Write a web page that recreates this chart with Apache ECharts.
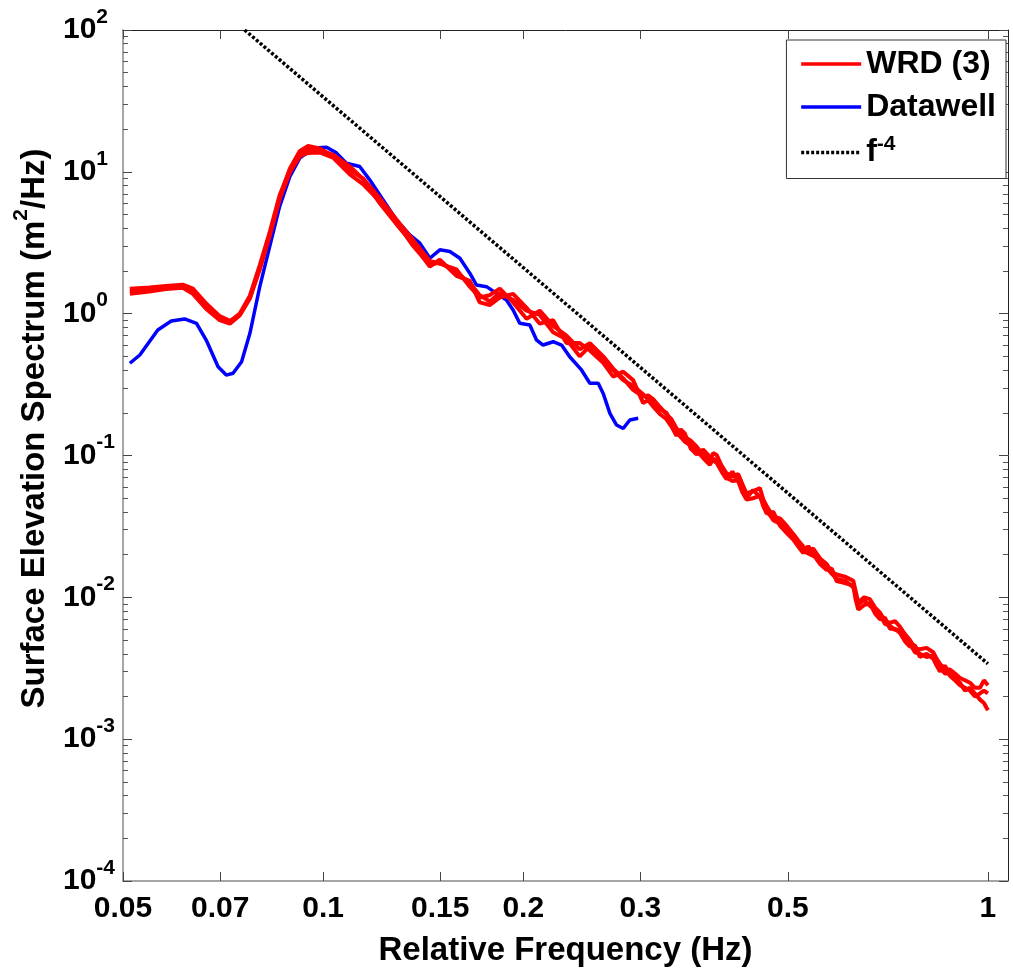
<!DOCTYPE html>
<html>
<head>
<meta charset="utf-8">
<script src="https://cdn.jsdelivr.net/npm/echarts@6.0.0/dist/echarts.min.js"></script>
<style>
  html, body { margin: 0; padding: 0; background: #fff; }
  #main { width: 1013px; height: 972px; }
</style>
</head>
<body>
<div id="main"></div>
<script>
// frequency grid shared by the three WRD runs (Hz)
const redFreq = [
  0.0512, 0.0548, 0.0580, 0.0615, 0.0637, 0.0667, 0.0699, 0.0724, 0.0749, 0.0776,
  0.0803, 0.0831, 0.0860, 0.0891, 0.0922, 0.0949, 0.0988, 0.1035, 0.1097, 0.1148,
  0.1217, 0.1304, 0.1366, 0.1447, 0.1498, 0.1587, 0.1662, 0.1720, 0.1781, 0.1844,
  0.1931, 0.2023, 0.2118, 0.2218, 0.2323, 0.2432, 0.2519, 0.2638, 0.2731, 0.2827,
  0.2926, 0.3029, 0.3082, 0.3136, 0.3210, 0.3285, 0.3342, 0.3401, 0.3450, 0.3500,
  0.3572, 0.3645, 0.3730, 0.3817, 0.3862, 0.3907, 0.3975, 0.4044, 0.4126, 0.4210,
  0.4272, 0.4334, 0.4435, 0.4539, 0.4593, 0.4647, 0.4755, 0.4866, 0.4979, 0.5095,
  0.5184, 0.5275, 0.5367, 0.5461, 0.5590, 0.5721, 0.5821, 0.5922, 0.6094, 0.6272,
  0.6326, 0.6381, 0.6512, 0.6645, 0.6762, 0.6880, 0.7000, 0.7122, 0.7247, 0.7374,
  0.7502, 0.7632, 0.7765, 0.7901, 0.8085, 0.8274, 0.8371, 0.8469, 0.8617, 0.8768,
  0.8922, 0.9078, 0.9236, 0.9397, 0.9561, 0.9728, 0.9863, 1.0
];
const wrdRun1 = [
  1.50, 1.53, 1.57, 1.60, 1.50, 1.18, 0.96, 0.89, 0.98, 1.30,
  2.10, 3.60, 6.60, 10.5, 14.0, 15.2, 14.6, 13.0, 10.3, 9.0,
  6.5, 4.3, 3.3, 2.35, 2.25, 2.05, 1.55, 1.30, 1.35, 1.50,
  1.20, 0.92, 1.05, 0.82, 0.70, 0.56, 0.62, 0.50, 0.41, 0.35,
  0.29, 0.26, 0.265, 0.25, 0.22, 0.195, 0.18, 0.155, 0.145, 0.135,
  0.127, 0.116, 0.101, 0.092, 0.104, 0.101, 0.085, 0.075, 0.071, 0.074,
  0.063, 0.054, 0.056, 0.059, 0.049, 0.044, 0.037, 0.036, 0.032, 0.028,
  0.0252, 0.0228, 0.0214, 0.0220, 0.0188, 0.0172, 0.0150, 0.0145, 0.0140, 0.0131,
  0.0110, 0.0092, 0.0100, 0.0097, 0.0085, 0.0078, 0.0068, 0.0066, 0.0068, 0.0062,
  0.0055, 0.0050, 0.0044, 0.0043, 0.0044, 0.0041, 0.0037, 0.0034, 0.0031, 0.0031,
  0.0029, 0.0027, 0.0026, 0.0025, 0.0023, 0.0023, 0.0026, 0.0024
];
const wrdRun2 = [
  1.44, 1.49, 1.54, 1.58, 1.42, 1.12, 0.93, 0.88, 1.00, 1.34,
  2.20, 3.75, 6.80, 10.3, 13.4, 14.3, 14.0, 13.2, 10.9, 8.9,
  6.0, 4.0, 3.1, 2.15, 2.40, 1.85, 1.70, 1.20, 1.15, 1.30,
  1.38, 1.10, 0.85, 0.90, 0.62, 0.62, 0.55, 0.45, 0.36, 0.39,
  0.34, 0.235, 0.245, 0.222, 0.196, 0.18, 0.16, 0.138, 0.153, 0.143,
  0.112, 0.102, 0.110, 0.098, 0.092, 0.089, 0.077, 0.068, 0.077, 0.066,
  0.055, 0.049, 0.050, 0.052, 0.044, 0.039, 0.040, 0.032, 0.0285, 0.0255,
  0.0228, 0.0205, 0.0230, 0.0200, 0.0172, 0.0156, 0.0160, 0.0130, 0.0126, 0.0121,
  0.0096, 0.0082, 0.0088, 0.0091, 0.0077, 0.0070, 0.0072, 0.0060, 0.0060, 0.0056,
  0.0049, 0.0045, 0.0046, 0.0038, 0.0040, 0.0037, 0.0033, 0.0030, 0.0033, 0.0028,
  0.0026, 0.0024, 0.0023, 0.0022, 0.0020, 0.0021, 0.0022, 0.0021
];
const wrdRun3 = [
  1.38, 1.43, 1.49, 1.52, 1.38, 1.08, 0.90, 0.85, 0.97, 1.28,
  2.05, 3.55, 6.40, 9.9, 12.9, 13.6, 13.7, 12.6, 9.6, 8.2,
  6.2, 4.1, 3.0, 2.2, 2.3, 1.95, 1.65, 1.35, 1.22, 1.40,
  1.25, 1.05, 0.98, 0.74, 0.66, 0.50, 0.59, 0.48, 0.40, 0.34,
  0.31, 0.27, 0.25, 0.235, 0.212, 0.20, 0.168, 0.146, 0.135, 0.125,
  0.118, 0.108, 0.096, 0.086, 0.095, 0.092, 0.081, 0.070, 0.066, 0.067,
  0.058, 0.0505, 0.057, 0.051, 0.048, 0.041, 0.035, 0.033, 0.030, 0.0278,
  0.0235, 0.0212, 0.0204, 0.0196, 0.0187, 0.0162, 0.0147, 0.0135, 0.0131, 0.0118,
  0.0105, 0.0089, 0.0096, 0.0087, 0.0082, 0.0075, 0.0065, 0.0063, 0.0059, 0.0059,
  0.0052, 0.0047, 0.0041, 0.0040, 0.0038, 0.0039, 0.0034, 0.0032, 0.0029, 0.0029,
  0.0027, 0.0025, 0.0022, 0.0023, 0.0021, 0.0019, 0.0018, 0.0016
];

const datawellFreq = [
  0.0512, 0.0530, 0.0564, 0.0591, 0.0619, 0.0645, 0.0667, 0.0695, 0.0715, 0.0732,
  0.0754, 0.0776, 0.0803, 0.0831, 0.0860, 0.0891, 0.0922, 0.0966, 0.1012, 0.1047,
  0.1084, 0.1135, 0.1175, 0.1231, 0.1289, 0.1350, 0.1398, 0.1447, 0.1498, 0.1551,
  0.1606, 0.1662, 0.1701, 0.1761, 0.1823, 0.1887, 0.1931, 0.1976, 0.2046, 0.2094,
  0.2142, 0.2218, 0.2284, 0.2349, 0.2447, 0.2519, 0.2593, 0.2638, 0.2700, 0.2763,
  0.2827, 0.2893, 0.2978
];
const datawellSpec = [
  0.447, 0.511, 0.767, 0.888, 0.918, 0.855, 0.652, 0.423, 0.369, 0.380,
  0.458, 0.727, 1.55, 2.97, 5.69, 9.26, 12.5, 14.7, 14.9, 13.6,
  11.5, 10.9, 8.78, 6.34, 4.58, 3.59, 3.14, 2.46, 2.82, 2.74,
  2.46, 1.93, 1.59, 1.55, 1.39, 1.25, 1.06, 0.855, 0.832, 0.652,
  0.601, 0.634, 0.601, 0.497, 0.401, 0.323, 0.323, 0.274, 0.198, 0.164,
  0.155, 0.178, 0.183
];

// f^-4 reference line end points
const refFreq = [0.0762, 1.0];
const refSpec = [100, 0.0034];

const xTickValues = [0.05, 0.07, 0.1, 0.15, 0.2, 0.3, 0.5, 1];
const yTickValues = [1e-4, 1e-3, 1e-2, 1e-1, 1, 10, 100];
const yMinorValues = [];
for (let k = -4; k < 2; k++) {
  for (let m = 2; m <= 9; m++) yMinorValues.push(+(m * Math.pow(10, k)).toPrecision(3));
}

const FONT = "'Liberation Sans', Arial, Helvetica, sans-serif";

function pairs(xs, ys) {
  return xs.map((x, i) => [x, ys[i]]);
}

function txt(size, extra) {
  return Object.assign({ fontFamily: FONT, fontWeight: 'bold', fontSize: size, color: '#000' }, extra || {});
}

const xCommon = {
  type: 'log',
  logBase: 10,
  min: 0.05,
  max: 1.072,
  splitLine: { show: false },
  minorTick: { show: false }
};
const yCommon = {
  type: 'log',
  logBase: 10,
  min: 1e-4,
  max: 100,
  splitLine: { show: false },
  minorTick: { show: false }
};

const options = {
  animation: false,
  backgroundColor: '#fff',
  grid: { left: 123, top: 30, right: 5, bottom: 91, containLabel: false, outerBoundsMode: 'none' },
  xAxis: [
    Object.assign({}, xCommon, {
      position: 'bottom',
      name: 'Relative Frequency (Hz)',
      nameLocation: 'middle',
      nameGap: 53,
      nameTextStyle: txt(33),
      axisLine: { lineStyle: { color: '#888', width: 1.5 } },
      axisTick: { inside: true, length: 9, customValues: xTickValues, lineStyle: { color: '#444' } },
      axisLabel: Object.assign(txt(30), {
        customValues: xTickValues,
        margin: 13,
        formatter: (v) => String(+Number(v).toPrecision(2))
      })
    }),
    Object.assign({}, xCommon, {
      position: 'top',
      axisLine: { lineStyle: { color: '#222', width: 1 } },
      axisTick: { inside: true, length: 9, customValues: xTickValues, lineStyle: { color: '#444' } },
      axisLabel: { show: false }
    })
  ],
  yAxis: [
    Object.assign({}, yCommon, {
      position: 'left',
      name: '{b|Surface Elevation Spectrum (m}{s|2}{b|/Hz)}',
      nameLocation: 'middle',
      nameGap: 65,
      nameRotate: 90,
      nameTextStyle: {
        padding: [0, 0, 0, 54],
        rich: { b: txt(33), s: txt(21, { padding: [0, 0, 26, 0] }) }
      },
      axisLine: { lineStyle: { color: '#888', width: 1.5 } },
      axisTick: { inside: true, length: 9, customValues: yTickValues, lineStyle: { color: '#444' } },
      axisLabel: {
        customValues: yTickValues,
        align: 'left',
        margin: 60,
        formatter: (v) => '{b|10}{s|' + Math.round(Math.log10(v)) + '}',
        rich: { b: txt(30), s: txt(21, { padding: [0, 0, 26, 0] }) }
      }
    }),
    Object.assign({}, yCommon, {
      position: 'right',
      axisLine: { lineStyle: { color: '#222', width: 1 } },
      axisTick: { inside: true, length: 9, customValues: yTickValues, lineStyle: { color: '#444' } },
      axisLabel: { show: false }
    }),
    Object.assign({}, yCommon, {
      position: 'left',
      axisLine: { show: false },
      axisTick: { inside: true, length: 5, customValues: yMinorValues, lineStyle: { color: '#555' } },
      axisLabel: { show: false }
    }),
    Object.assign({}, yCommon, {
      position: 'right',
      axisLine: { show: false },
      axisTick: { inside: true, length: 5, customValues: yMinorValues, lineStyle: { color: '#555' } },
      axisLabel: { show: false }
    })
  ],
  legend: {
    data: ['WRD (3)', 'Datawell', 'f-4'],
    orient: 'vertical',
    right: 7,
    top: 40,
    itemWidth: 60,
    itemHeight: 14,
    itemGap: 11,
    padding: [8, 10, 10, 13],
    borderColor: '#333',
    borderWidth: 1,
    backgroundColor: '#fff',
    selectedMode: false,
    itemStyle: { opacity: 0, color: 'rgba(0,0,0,0)', borderWidth: 0 },
    lineStyle: { width: 3.5 },
    formatter: (name) => name === 'f-4' ? '{b|f}{s|-4}' : '{b|' + name + '}',
    textStyle: {
      rich: {
        b: txt(32),
        s: txt(21, { padding: [0, 0, 16, 0] })
      }
    }
  },
  series: [
    {
      name: 'Datawell', type: 'line', data: pairs(datawellFreq, datawellSpec),
      symbol: 'none',
      lineStyle: { color: '#0000ff', width: 3.5 }, itemStyle: { color: '#0000ff' }, z: 2
    },
    {
      name: 'WRD (3)', type: 'line', data: pairs(redFreq, wrdRun1),
      symbol: 'none', lineStyle: { color: '#ff0000', width: 4 }, itemStyle: { color: '#ff0000' }, z: 3
    },
    {
      name: 'WRD (3)', type: 'line', data: pairs(redFreq, wrdRun2),
      symbol: 'none', lineStyle: { color: '#ff0000', width: 4 }, itemStyle: { color: '#ff0000' }, z: 3
    },
    {
      name: 'WRD (3)', type: 'line', data: pairs(redFreq, wrdRun3),
      symbol: 'none', lineStyle: { color: '#ff0000', width: 4 }, itemStyle: { color: '#ff0000' }, z: 3
    },
    {
      name: 'f-4', type: 'line', data: pairs(refFreq, refSpec),
      symbol: 'none', lineStyle: { color: '#000', width: 3.5, type: [3, 2] }, itemStyle: { color: '#000' }, z: 4
    }
  ]
};

const myChart = echarts.init(document.getElementById('main'));
myChart.setOption(options);
window.onresize = function() {
  myChart.resize();
};
</script>
</body>
</html>
